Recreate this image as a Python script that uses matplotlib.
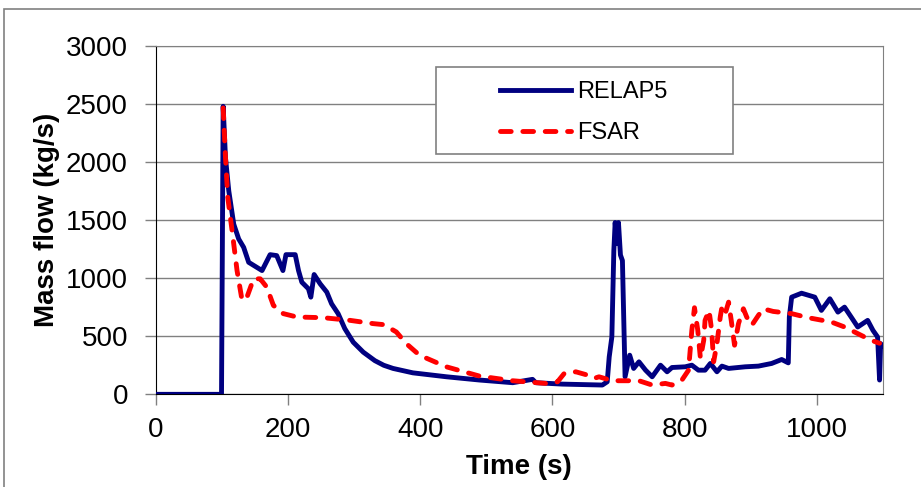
import matplotlib
matplotlib.use("Agg")
import matplotlib.pyplot as plt
from matplotlib.patches import Rectangle

plt.rcParams["font.family"] = ["Liberation Sans", "DejaVu Sans"]

# RELAP5 mass flow
relap_t = [0, 99.5, 102, 105.5, 110.5, 118, 125.5, 133, 140.6, 160.8, 173, 183, 192.4,
           197, 211, 216, 221, 231, 234.6, 239.6, 248.7, 258.8, 266, 276, 286, 298.8,
           314, 331.5, 345, 359, 389, 440, 490, 540, 570, 575, 615, 675.6, 683, 686,
           690, 693, 695, 697.5, 700, 703, 706, 710, 717, 723, 731, 741, 751, 763.6,
           773.6, 781, 801, 811, 821, 831, 839, 849, 856.5, 866.6, 891.7, 911.7, 931.8,
           946.9, 956.9, 958.5, 962, 977, 997, 1007, 1019.8, 1032, 1042, 1052, 1062,
           1077, 1085, 1092, 1095, 1096.6, 1099]
relap_m = [0, 0, 2481, 2038, 1752, 1466, 1338, 1266, 1137, 1066, 1203, 1195, 1066,
           1203, 1203, 1066, 966, 909, 837, 1032, 952, 880, 780, 694, 566, 449,
           363, 290, 250, 223, 185, 151, 123, 100, 129, 100, 88, 80, 108, 322,
           494, 1237, 1480, 1300, 1480, 1200, 1152, 151, 337, 223, 280, 208, 151, 251,
           194, 231, 237, 251, 208, 208, 266, 194, 243, 223, 237, 243, 266,
           300, 271, 666, 837, 871, 837, 723, 823, 708, 751, 666, 580,
           637, 551, 494, 123, 437, 420]

# FSAR mass flow
fsar_t = [102, 105.5, 109, 115.5, 123, 130.6, 138, 148, 158, 168, 178, 193, 213.5,
          253.6, 294, 329, 345, 364, 379, 399, 439.6, 489.8, 540, 590, 607.8, 618,
          635.5, 653, 663, 670.6, 690.7, 731, 751, 771, 781, 796, 806, 811, 815, 820,
          824, 829, 831, 837, 841, 844, 849, 854, 856.5, 861.5, 866.6, 870.6, 875.6,
          881.6, 889, 894, 901.6, 911.7, 919, 934, 962, 987, 1022, 1042, 1062, 1082,
          1095]
fsar_m = [2467, 2038, 1695, 1409, 1066, 809, 837, 995, 995, 923, 766, 695, 666,
          660, 637, 609, 600, 537, 437, 337, 237, 157, 117, 94, 108, 180,
          194, 166, 137, 151, 117, 117, 80, 94, 80, 123, 208, 551, 746, 551,
          309, 466, 637, 723, 551, 280, 437, 666, 751, 695, 794, 637, 423,
          609, 737, 666, 594, 680, 737, 714, 695, 660, 623, 580, 523, 466,
          440]

x_ticks = [0, 200, 400, 600, 800, 1000]
y_ticks = [0, 500, 1000, 1500, 2000, 2500, 3000]

fig = plt.figure(figsize=(9.21, 4.87), dpi=100)
fig.patches.append(Rectangle((4 / 921, -0.1), 1.2, 1.1 - 9 / 487, transform=fig.transFigure,
                             fill=False, edgecolor="#808080", lw=1.2))
ax = fig.add_axes([0.1691, 0.1903, 0.7895, 0.7152])

ax.plot(relap_t, relap_m, color="#000080", lw=3.5, solid_joinstyle="round",
        label="RELAP5", zorder=3)
ax.plot(fsar_t, fsar_m, color="#ff0000", lw=3.5, dashes=(2.2, 2.4),
        dash_capstyle="round", label="FSAR", zorder=4)

ax.set_xlim(0, 1100)
ax.set_ylim(0, 3000)
ax.set_xticks(x_ticks)
ax.set_yticks(y_ticks)
ax.yaxis.grid(True, color="#808080", lw=1)
ax.set_axisbelow(True)
ax.tick_params(axis="both", direction="out", length=8, width=1, color="#808080",
               labelsize=20)
ax.tick_params(axis="x", pad=8)
ax.tick_params(axis="y", pad=12)
for side in ["left", "bottom"]:
    ax.spines[side].set_color("black")
for side in ["top", "right"]:
    ax.spines[side].set_color("#808080")

ax.set_xlabel("Time (s)", fontsize=20, fontweight="bold", labelpad=8)
ax.set_ylabel("Mass flow (kg/s)", fontsize=20, fontweight="bold", labelpad=4)

# legend frame drawn separately so it can be wider than its content
ax.add_patch(Rectangle((0.3856, 0.69), 0.4084, 0.25, transform=ax.transAxes,
                       facecolor="white", edgecolor="#808080", lw=1.2, zorder=5))
leg = ax.legend(loc="upper left", bbox_to_anchor=(0.4736, 0.899), frameon=False,
                fontsize=17, handlelength=3, handletextpad=0.25, labelspacing=0.79,
                borderpad=0, borderaxespad=0)
leg.set_zorder(6)

fig.savefig("out.png", dpi=100)
